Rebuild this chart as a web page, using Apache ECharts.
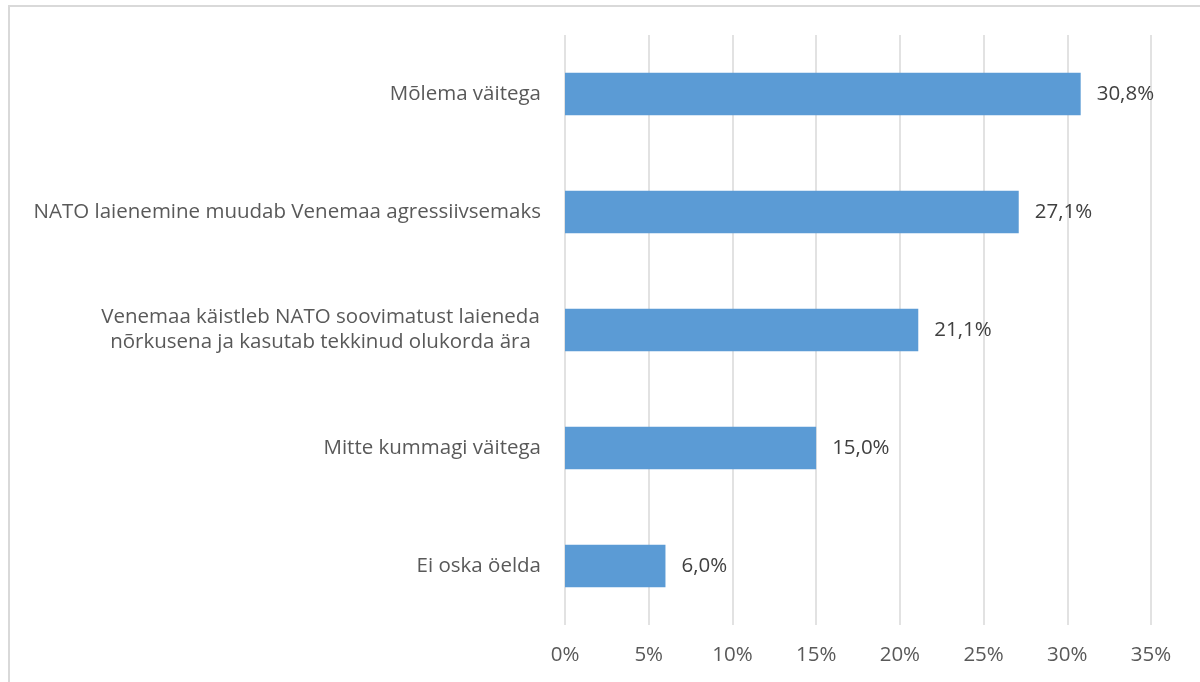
<!DOCTYPE html>
<html>
<head>
<meta charset="utf-8">
<script src="https://cdn.jsdelivr.net/npm/echarts@6/dist/echarts.min.js"></script>
<style>
    html, body { margin: 0; padding: 0; background: #fff; }
    #chart { width: 1200px; height: 682px; }
</style>
</head>
<body>
<div id="chart"></div>
<script>
// data (top to bottom)
var categories = [
    'Mõlema väitega',
    'NATO laienemine muudab Venemaa agressiivsemaks',
    'Venemaa käistleb NATO soovimatust laieneda\nnõrkusena ja kasutab tekkinud olukorda ära',
    'Mitte kummagi väitega',
    'Ei oska öelda'
];
var shares = [30.8, 27.1, 21.1, 15.0, 6.0];
var tickMax = 35;
var tickStep = 5;

var chart = echarts.init(document.getElementById('chart'));
var font = '"Open Sans", "Liberation Sans", sans-serif';
var fontSize = 20.5;

// widest line of a wrapped label, so the lines can be centred on each other
function blockWidth(text) {
    var ctx = document.createElement('canvas').getContext('2d');
    ctx.font = fontSize + 'px ' + font;
    return Math.max.apply(null, text.split('\n').map(function (s) {
        return ctx.measureText(s).width;
    }));
}
var wrapWidth = Math.ceil(blockWidth(categories[2])) + 2;

chart.setOption({
    backgroundColor: '#fff',
    animation: false,
    graphic: [{
        type: 'rect',
        shape: { x: 9, y: 6, width: 1300, height: 1000 },
        style: { fill: null, stroke: '#d9d9d9', lineWidth: 2 },
        silent: true
    }],
    grid: {
        left: 565,
        right: 49,
        top: 35,
        bottom: 57
    },
    xAxis: {
        type: 'value',
        min: 0,
        max: tickMax,
        interval: tickStep,
        axisLine: { show: false },
        axisTick: { show: false },
        splitLine: { lineStyle: { color: '#d9d9d9', width: 1.5 } },
        axisLabel: {
            color: '#595959',
            fontFamily: font,
            fontSize: fontSize,
            margin: 20,
            formatter: function (v) { return v + '%'; }
        }
    },
    yAxis: {
        type: 'category',
        inverse: true,
        data: categories,
        axisLine: { show: false },
        axisTick: { show: false },
        axisLabel: {
            color: '#595959',
            fontFamily: font,
            fontSize: fontSize,
            margin: 24,
            lineHeight: 25,
            formatter: function (v) {
                if (v.indexOf('\n') < 0) return v;
                return v.split('\n').map(function (s) { return '{c|' + s + '}'; }).join('\n');
            },
            rich: {
                c: {
                    width: wrapWidth,
                    align: 'center',
                    color: '#595959',
                    fontFamily: font,
                    fontSize: fontSize,
                    lineHeight: 25
                }
            }
        }
    },
    series: [{
        type: 'bar',
        data: shares,
        barCategoryGap: '64%',
        itemStyle: { color: '#5b9bd5' },
        label: {
            show: true,
            position: 'right',
            distance: 16,
            color: '#404040',
            fontFamily: font,
            fontSize: fontSize,
            formatter: function (p) { return p.value.toFixed(1).replace('.', ',') + '%'; }
        }
    }]
});
</script>
</body>
</html>
